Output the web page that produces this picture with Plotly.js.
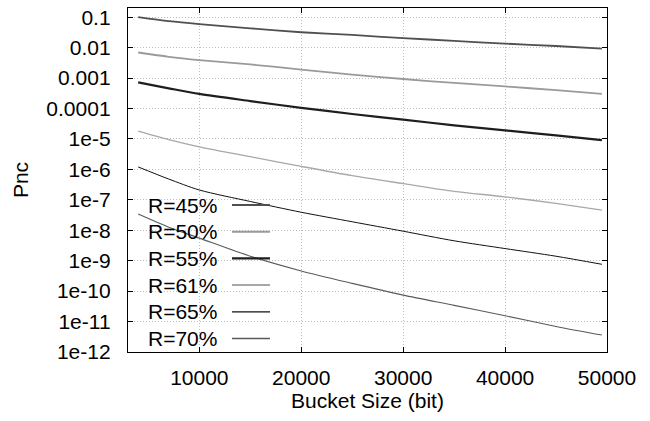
<!DOCTYPE html>
<html>
<head>
<meta charset="utf-8">
<script src="https://cdn.plot.ly/plotly-3.0.1.min.js"></script>
<style>
  html, body { margin: 0; padding: 0; background: #ffffff; }
  #chart { width: 650px; height: 421px; }
</style>
</head>
<body>
<div id="chart"></div>
<script>
// ---- data ----
const bucketSizes = [4000, 7000, 10000, 15000, 20000, 25000, 30000, 35000, 40000, 45000, 49500];

const seriesNames = ["R=45%", "R=50%", "R=55%", "R=61%", "R=65%", "R=70%"];

const pncR45 = [1.0e-1, 7.4e-2, 5.9e-2, 4.3e-2, 3.2e-2, 2.6e-2, 2.05e-2, 1.66e-2, 1.35e-2, 1.13e-2, 9.3e-3];
const pncR50 = [6.9e-3, 5.0e-3, 3.9e-3, 2.8e-3, 1.9e-3, 1.3e-3, 9.3e-4, 6.9e-4, 5.3e-4, 4.0e-4, 3.0e-4];
const pncR55 = [7.2e-4, 4.6e-4, 3.0e-4, 1.75e-4, 1.05e-4, 6.6e-5, 4.3e-5, 2.8e-5, 1.9e-5, 1.3e-5, 9.1e-6];
const pncR61 = [1.8e-5, 9.5e-6, 5.5e-6, 2.6e-6, 1.25e-6, 6.2e-7, 3.4e-7, 1.9e-7, 1.25e-7, 7.6e-8, 4.6e-8];
const pncR65 = [1.2e-6, 4.8e-7, 2.1e-7, 8.8e-8, 3.9e-8, 1.9e-8, 9.3e-9, 4.5e-9, 2.5e-9, 1.4e-9, 7.6e-10];
const pncR70 = [3.4e-8, 1.26e-8, 5.5e-9, 1.4e-9, 4.6e-10, 1.8e-10, 7.4e-11, 3.4e-11, 1.55e-11, 6.9e-12, 3.6e-12];

const xTickVals = [10000, 20000, 30000, 40000, 50000];
const yTickVals = [1e-12, 1e-11, 1e-10, 1e-9, 1e-8, 1e-7, 1e-6, 1e-5, 1e-4, 1e-3, 1e-2, 1e-1];
const yTickText = ["1e-12", "1e-11", "1e-10", "1e-9", "1e-8", "1e-7", "1e-6", "1e-5", "0.0001", "0.001", "0.01", "0.1"];

// ---- styling ----
const seriesValues = [pncR45, pncR50, pncR55, pncR61, pncR65, pncR70];
const lineColors = ["#505050", "#9a9a9a", "#1e1e1e", "#a8a8a8", "#111111", "#5a5a5a"];
const lineWidths = [1.8, 1.8, 2.2, 1.3, 1.0, 1.1];
const legendWidths = [2.2, 2.0, 2.2, 2.0, 1.2, 1.6];

const FONT = "Liberation Sans, Arial, Helvetica, sans-serif";

const traces = seriesNames.map((name, i) => ({
  type: "scatter",
  mode: "lines",
  name: name,
  x: bucketSizes,
  y: seriesValues[i],
  line: { color: lineColors[i], width: lineWidths[i], shape: "spline", smoothing: 0.8 },
  showlegend: false,
  hoverinfo: "x+y+name"
}));

// Gnuplot-style legend: text on the left, line sample on the right
const L = 128, R = 607, T = 8, B = 352;
const pw = R - L, ph = B - T;
const legendTextX = 147, legendLineX0 = 232, legendLineX1 = 270;
const legendY0 = 205, legendStep = 26.7;

const annotations = [];
const shapes = [];
seriesNames.forEach((name, i) => {
  const ypx = legendY0 + i * legendStep;
  const yp = (B - ypx) / ph;
  annotations.push({
    xref: "paper", yref: "paper",
    x: (legendTextX - L) / pw, y: yp,
    xanchor: "left", yanchor: "middle",
    text: name, showarrow: false,
    font: { family: FONT, size: 21, color: "#000000" },
    borderpad: 0
  });
  shapes.push({
    type: "line", xref: "paper", yref: "paper",
    x0: (legendLineX0 - L) / pw, x1: (legendLineX1 - L) / pw,
    y0: yp, y1: yp,
    line: { color: lineColors[i], width: legendWidths[i] }
  });
});

const gridStyle = { showgrid: true, gridcolor: "#bdbdbd", griddash: "1px,2px", gridwidth: 1 };

const layout = {
  width: 650,
  height: 421,
  margin: { l: L, r: 650 - R, t: T, b: 421 - B, pad: 0 },
  paper_bgcolor: "#ffffff",
  plot_bgcolor: "#ffffff",
  font: { family: FONT, size: 21, color: "#000000" },
  showlegend: false,
  xaxis: Object.assign({
    type: "linear",
    range: [3000, 50000],
    tickvals: xTickVals,
    ticktext: xTickVals.map(String),
    ticks: "inside",
    ticklen: 5,
    tickwidth: 1,
    tickcolor: "#000000",
    showline: true,
    linecolor: "#000000",
    linewidth: 1.2,
    mirror: "allticks",
    zeroline: false,
    ticklabelstandoff: 7,
    tickfont: { family: FONT, size: 21, color: "#000000" },
    title: { text: "Bucket Size (bit)", font: { family: FONT, size: 21, color: "#000000" }, standoff: 2 },
    automargin: false
  }, gridStyle),
  yaxis: Object.assign({
    type: "log",
    range: [-12, Math.log10(0.2)],
    tickvals: yTickVals,
    ticktext: yTickText,
    ticks: "inside",
    ticklen: 5,
    tickwidth: 1,
    tickcolor: "#000000",
    showline: true,
    linecolor: "#000000",
    linewidth: 1.2,
    mirror: "allticks",
    zeroline: false,
    ticklabelstandoff: 12,
    tickfont: { family: FONT, size: 21, color: "#000000" },
    title: { text: "Pnc", font: { family: FONT, size: 21, color: "#000000" }, standoff: 12 },
    automargin: false
  }, gridStyle),
  annotations: annotations,
  shapes: shapes
};

Plotly.newPlot("chart", traces, layout, { displayModeBar: false, staticPlot: true });
</script>
</body>
</html>
